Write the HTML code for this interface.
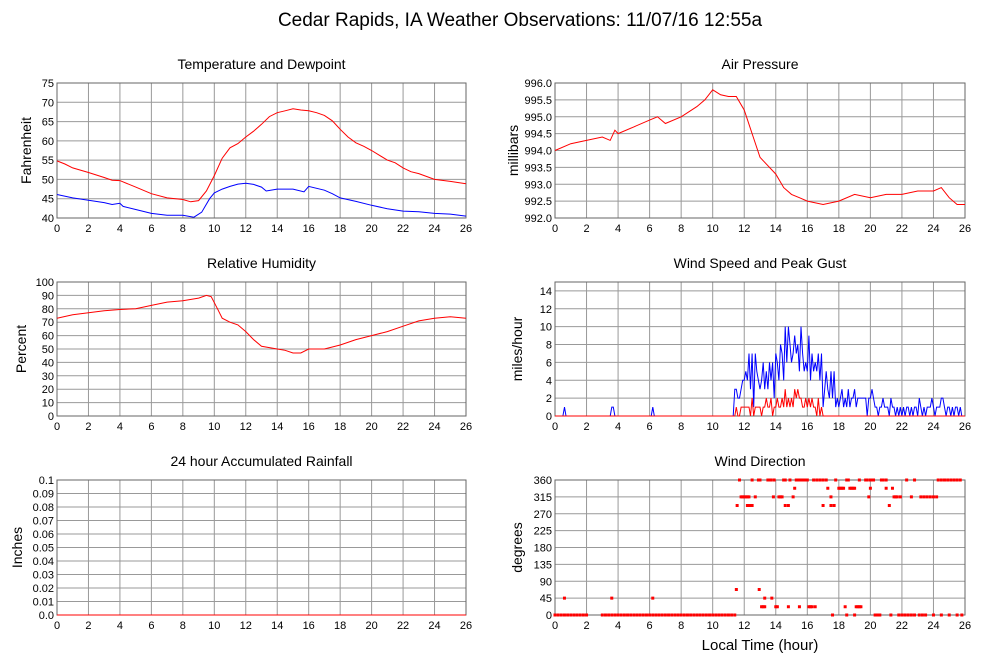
<!DOCTYPE html>
<html><head><meta charset="utf-8">
<style>
body{margin:0;background:#fff;}
svg{display:block;font-family:"Liberation Sans",sans-serif;}
</style></head>
<body>
<svg id="c" width="999" height="659" viewBox="0 0 999 659">
<text x="520" y="26" font-size="19" text-anchor="middle">Cedar Rapids, IA Weather Observations: 11/07/16 12:55a</text>
<text x="760" y="650" font-size="15" text-anchor="middle">Local Time (hour)</text>
</svg>
<script>
// Temperature / dewpoint
const tempT=[0,0.5,1,2,3,3.5,4,5,6,7,8,8.5,9,9.5,10,10.5,11,11.5,12,12.5,13,13.5,14,14.5,15,15.5,16,16.5,17,17.5,18,18.5,19,19.5,20,21,21.5,22,22.5,23,24,25,26];
const tempV=[54.8,54,53,51.8,50.5,49.8,49.7,48,46.3,45.2,44.8,44.2,44.5,47,51,55.5,58.2,59.3,61,62.5,64.3,66.3,67.3,67.8,68.3,68,67.8,67.3,66.6,65.2,63,61,59.5,58.6,57.5,55,54.3,53,52,51.5,50,49.5,48.9];
const dewT=[0,1,2,3,3.5,4,4.2,5,6,7,8,8.7,9.2,9.7,10,10.5,11,11.5,12,12.5,13,13.3,14,15,15.7,16,17,17.5,18,19,20,21,22,23,24,25,26];
const dewV=[46.1,45.2,44.6,44,43.5,43.8,43,42.2,41.2,40.7,40.7,40.2,41.5,45,46.5,47.5,48.2,48.8,49,48.7,48,47,47.5,47.5,46.8,48.2,47.2,46.3,45.2,44.3,43.3,42.4,41.8,41.6,41.2,41,40.5];
// Pressure
const presT=[0,1,2,3,3.5,3.8,4,5,6,6.5,7,8,9,9.5,10,10.5,11,11.5,12,12.5,13,14,14.5,15,15.5,16,17,18,19,20,21,22,23,24,24.5,25,25.5,26];
const presV=[994.0,994.2,994.3,994.4,994.3,994.6,994.5,994.7,994.9,995.0,994.8,995.0,995.3,995.5,995.8,995.65,995.6,995.6,995.2,994.5,993.8,993.3,992.9,992.7,992.6,992.5,992.4,992.5,992.7,992.6,992.7,992.7,992.8,992.8,992.9,992.6,992.4,992.4];
// Relative humidity
const rhT=[0,1,2,3,4,5,6,7,8,9,9.5,9.8,10.2,10.5,11,11.5,12,12.5,13,14,14.5,15,15.5,16,17,18,19,20,21,22,23,24,25,26];
const rhV=[73,75.5,77,78.5,79.5,80,82.5,85,86,88,90,89,80,73,70,68,63,57,52,50,49,47,47,50,50,53,57,60,63,67,71,73,74,73];
// Wind
const windEarlyT=[0,0.5,0.6,0.7,3.5,3.6,3.7,3.8,6.1,6.2,6.3,11.3];
const windEarlyV=[0,0,1,0,0,1,1,0,0,1,0,0];
const windStart=11.4;
const speedV=[3,3,2,2,3,4,4,5,4,7, 3,7,1,7,5,4,3,4,6,3, 5,3,6,4,6,2,7,6,4,8, 7,4,10,6,10,8,6,7,9,7, 8,5,10,7,5,6,5,9,4,7, 5,6,5,7,4,7,1,3,5,3, 2,5,2,5,1,2,1,2,3,1, 2,1,3,1,2,2,3,1,2,2, 2,2,2,2,0,2,2,3,2,1, 1,0,1,1,2,1,1,1,0,2, 1,1,0,1,0,1,0,1,0,1, 1,0,1,0,1,1,0,2,1,0, 1,0,1,1,1,2,1,0,1,1, 1,2,2,1,0,1,1,0,1,0, 1,1,0,1,0];
const gustV=[0,1,0,0,1,1,1,1,1,1, 0,2,0,1,1,1,1,0,1,1, 2,1,1,2,0,1,1,2,1,1, 2,1,3,1,2,1,2,1,3,2, 3,2,2,1,1,2,1,2,1,2, 1,1,0,2,0,1,0,0,0,0];
// Wind direction
const dirT=[0,0.2,0.4,0.6,0.8,1,1.2,1.4,1.6,1.8,2,0.6,3,3.2,3.4,3.6,3.8,4,4.2,4.4,4.6,4.8,5,5.2,5.4,5.6,5.8,6,6.2,6.4,6.6,6.8,7,7.2,7.4,7.6,7.8,8,8.2,8.4,8.6,8.8,9,9.2,9.4,9.6,9.8,10,10.2,10.4,10.6,10.8,11,11.2,11.4,3.6,6.2,
11.5,11.55,11.7,11.8,11.9,12,12.1,12.2,12.3,12.2,12.35,12.5,12.5,12.7,12.9,13,12.95,13.1,13.2,13.3,13.3,13.5,13.6,13.7,13.9,13.75,13.85,14,14.1,14.2,14.3,14.4,14.5,14.6,14.6,14.8,14.8,14.9,15.1,15.2,15.3,15.4,15.5,15.6,15.7,15.8,15.9,16,15.5,16.1,16.2,16.3,16.5,16.4,16.6,16.8,17,17.2,17,17.3,17.5,17.5,17.7,17.6,17.8,18,18.1,18.2,18.3,18.4,18.5,18.5,18.6,18.7,18.8,18.9,19,19,19.1,19.2,19.3,19.4,19.3,19.7,19.8,20,20.1,20.2,19.9,20,20.3,20.4,20.5,20.6,20.7,20.8,21,21,21.2,21.3,21.4,21.5,21.6,21.7,21.8,21.9,22,22.2,22.4,22.6,22.8,22.3,22.6,22.8,23.2,23.4,23.6,23.1,23.3,23.5,23.8,24,24.2,24,24.5,24.3,24.5,24.7,24.9,25.1,25.3,25.5,25.7,25,25.5,25.8];
const dirV=[0,0,0,0,0,0,0,0,0,0,0,45,0,0,0,0,0,0,0,0,0,0,0,0,0,0,0,0,0,0,0,0,0,0,0,0,0,0,0,0,0,0,0,0,0,0,0,0,0,0,0,0,0,0,0,45,45,
68,292,360,315,315,315,315,315,315,292,292,292,360,315,360,360,68,22,22,22,45,360,360,360,360,45,315,22,22,315,315,315,360,360,292,292,22,360,315,338,360,360,360,360,360,360,360,360,22,22,22,22,22,360,360,360,360,360,292,338,315,292,292,0,360,338,338,338,338,22,0,360,360,338,338,338,338,0,22,22,22,22,360,360,360,360,360,360,315,338,0,0,0,0,360,360,360,338,292,0,338,315,315,315,0,315,0,0,0,0,0,360,315,360,315,315,315,0,0,0,315,315,315,0,0,360,360,360,360,360,360,360,360,0,0,0];

const svg=document.getElementById('c');
const NS='http://www.w3.org/2000/svg';
function mk(tag,attrs,parent){const e=document.createElementNS(NS,tag);for(const k in attrs)e.setAttribute(k,attrs[k]);(parent||svg).appendChild(e);return e;}

function panel(o){
  const g=mk('g',{});
  
  
  const sx=t=>o.x0+(t/26)*(o.x1-o.x0);
  const sy=v=>o.y1-(v-o.ymin)/(o.ymax-o.ymin)*(o.y1-o.y0);
  // grid
  for(let t=0;t<=26;t+=2){
    const l=mk('line',{x1:sx(t),x2:sx(t),y1:o.y0,y2:o.y1,stroke:'#999','stroke-width':1},g);
    
    
    const tx=mk('text',{x:sx(t),y:o.y1+14,'font-size':11,'text-anchor':'middle'},g);
    tx.textContent=t;
    
    
  }
  o.yticks.forEach((v,i)=>{
    const l=mk('line',{x1:o.x0,x2:o.x1,y1:sy(v),y2:sy(v),stroke:'#999','stroke-width':1},g);
    
    
    const tx=mk('text',{x:o.x0-3,y:sy(v)+4,'font-size':11,'text-anchor':'end'},g);
    tx.textContent=o.ylabels[i];
    
    
  });
  const r=mk('rect',{x:o.x0,y:o.y0,width:o.x1-o.x0,height:o.y1-o.y0,fill:'none',stroke:'#666'},g);
  
  
  const ti=mk('text',{x:(o.x0+o.x1)/2,y:o.y0-14,'font-size':14,'text-anchor':'middle'},g);
  ti.textContent=o.title;
  
  
  const yl=mk('text',{x:0,y:0,'font-size':14,'text-anchor':'middle',transform:`translate(${o.ylx},${(o.y0+o.y1)/2}) rotate(-90)`},g);
  yl.textContent=o.ylabel;
  
  
  o.series.forEach(s=>{
    const pts=s.t.map((t,i)=>sx(t).toFixed(1)+','+sy(s.v[i]).toFixed(1)).join(' ');
    const p=mk('polyline',{points:pts,fill:'none',stroke:s.color,'stroke-width':1},g);
    
    
  });
  if(o.dots){
    o.dots.t.forEach((t,i)=>{
      const d=mk('rect',{x:sx(t)-1.5,y:sy(o.dots.v[i])-1.5,width:3,height:3,fill:'#f00'},g);
      
      
    });
  }
}
const rng=(a,b,s)=>{const r=[];for(let v=a;v<=b+1e-9;v+=s)r.push(+v.toFixed(3));return r;};
const fmt=(arr,d)=>arr.map(v=>v.toFixed(d));

const windTimes=windEarlyT.concat(speedV.map((_,i)=>+(windStart+i*0.1).toFixed(2)));
const windVals=windEarlyV.concat(speedV);
const gustTimes=[0].concat(gustV.map((_,i)=>+(windStart+i*0.1).toFixed(2)),[26]);
const gustVals=[0].concat(gustV,[0]);

panel({name:'temperature-panel',title:'Temperature and Dewpoint',ylabel:'Fahrenheit',ylx:31,x0:57,x1:466,y0:83,y1:218,ymin:40,ymax:75,
  yticks:rng(40,75,5),ylabels:rng(40,75,5).map(String),
  series:[{name:'temperature-line',t:tempT,v:tempV,color:'#f00'},{name:'dewpoint-line',t:dewT,v:dewV,color:'#00f'}]});
panel({name:'pressure-panel',title:'Air Pressure',ylabel:'millibars',ylx:518,x0:555,x1:965,y0:83,y1:218,ymin:992,ymax:996,
  yticks:rng(992,996,0.5),ylabels:fmt(rng(992,996,0.5),1),
  series:[{name:'pressure-line',t:presT,v:presV,color:'#f00'}]});
panel({name:'humidity-panel',title:'Relative Humidity',ylabel:'Percent',ylx:26,x0:57,x1:466,y0:282,y1:416,ymin:0,ymax:100,
  yticks:rng(0,100,10),ylabels:rng(0,100,10).map(String),
  series:[{name:'humidity-line',t:rhT,v:rhV,color:'#f00'}]});
panel({name:'wind-speed-panel',title:'Wind Speed and Peak Gust',ylabel:'miles/hour',ylx:522,x0:555,x1:965,y0:282,y1:416,ymin:0,ymax:15,
  yticks:rng(0,14,2),ylabels:rng(0,14,2).map(String),
  series:[{name:'wind-speed-line',t:windTimes,v:windVals,color:'#00f'},{name:'peak-gust-line',t:gustTimes,v:gustVals,color:'#f00'}]});
panel({name:'rainfall-panel',title:'24 hour Accumulated Rainfall',ylabel:'Inches',ylx:22,x0:57,x1:466,y0:480,y1:615,ymin:0,ymax:0.1,
  yticks:rng(0,0.1,0.01),ylabels:rng(0,0.1,0.01).map(v=>v===0?'0.0':v===0.1?'0.1':v.toFixed(2)),
  series:[{name:'rainfall-line',t:[0,26],v:[0,0],color:'#f00'}]});
panel({name:'wind-direction-panel',title:'Wind Direction',ylabel:'degrees',ylx:522,x0:555,x1:965,y0:480,y1:615,ymin:0,ymax:360,
  yticks:rng(0,360,45),ylabels:rng(0,360,45).map(String),series:[],dots:{t:dirT,v:dirV}});
</script>
</body></html>
